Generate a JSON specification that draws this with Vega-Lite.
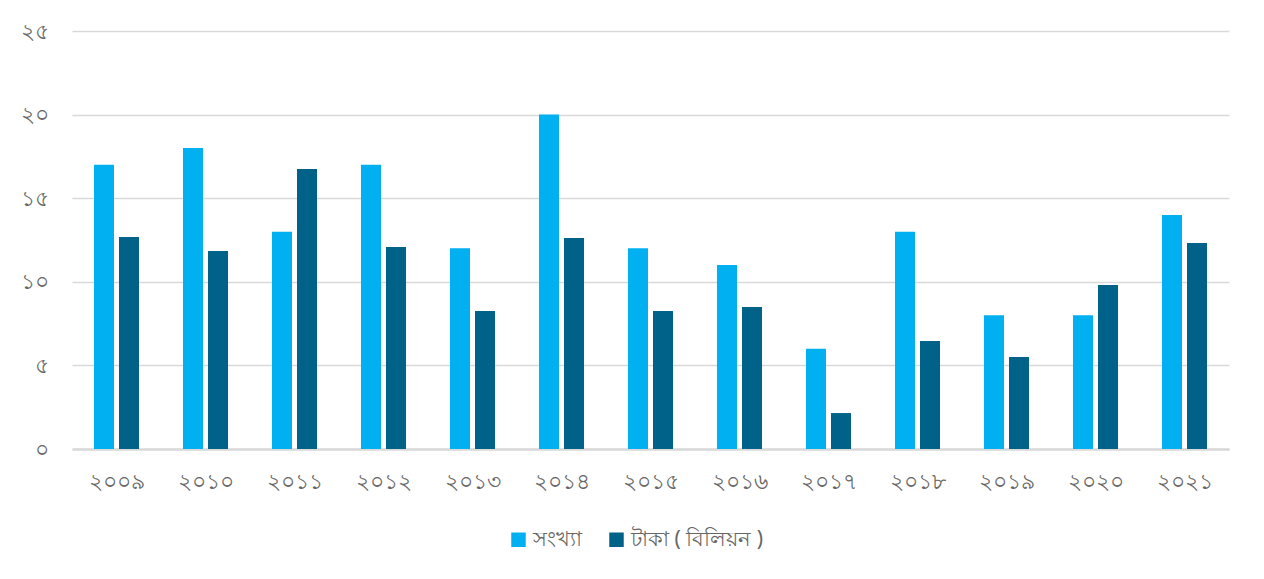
{
  "$schema": "https://vega.github.io/schema/vega-lite/v6.json",
  "width": 1157,
  "height": 418,
  "autosize": {"type": "none"},
  "padding": {"left": 72, "top": 31, "right": 35, "bottom": 130},
  "background": "white",
  "config": {
    "view": {"stroke": null},
    "font": "Noto Sans",
    "axis": {"labelFont": "Noto Sans", "labelColor": "#666666", "labelFontSize": 22}
  },
  "data": {
    "values": [
      {"year": "২০০৯", "series": "সংখ্যা", "value": 17},
      {"year": "২০০৯", "series": "টাকা ( বিলিয়ন )", "value": 12.68},
      {"year": "২০১০", "series": "সংখ্যা", "value": 18},
      {"year": "২০১০", "series": "টাকা ( বিলিয়ন )", "value": 11.84},
      {"year": "২০১১", "series": "সংখ্যা", "value": 13},
      {"year": "২০১১", "series": "টাকা ( বিলিয়ন )", "value": 16.75},
      {"year": "২০১২", "series": "সংখ্যা", "value": 17},
      {"year": "২০১২", "series": "টাকা ( বিলিয়ন )", "value": 12.08},
      {"year": "২০১৩", "series": "সংখ্যা", "value": 12},
      {"year": "২০১৩", "series": "টাকা ( বিলিয়ন )", "value": 8.25},
      {"year": "২০১৪", "series": "সংখ্যা", "value": 20},
      {"year": "২০১৪", "series": "টাকা ( বিলিয়ন )", "value": 12.62},
      {"year": "২০১৫", "series": "সংখ্যা", "value": 12},
      {"year": "২০১৫", "series": "টাকা ( বিলিয়ন )", "value": 8.25},
      {"year": "২০১৬", "series": "সংখ্যা", "value": 11},
      {"year": "২০১৬", "series": "টাকা ( বিলিয়ন )", "value": 8.49},
      {"year": "২০১৭", "series": "সংখ্যা", "value": 6},
      {"year": "২০১৭", "series": "টাকা ( বিলিয়ন )", "value": 2.15},
      {"year": "২০১৮", "series": "সংখ্যা", "value": 13},
      {"year": "২০১৮", "series": "টাকা ( বিলিয়ন )", "value": 6.46},
      {"year": "২০১৯", "series": "সংখ্যা", "value": 8},
      {"year": "২০১৯", "series": "টাকা ( বিলিয়ন )", "value": 5.5},
      {"year": "২০২০", "series": "সংখ্যা", "value": 8},
      {"year": "২০২০", "series": "টাকা ( বিলিয়ন )", "value": 9.81},
      {"year": "২০২১", "series": "সংখ্যা", "value": 14},
      {"year": "২০২১", "series": "টাকা ( বিলিয়ন )", "value": 12.32}
    ]
  },
  "mark": {"type": "bar"},
  "encoding": {
    "x": {
      "field": "year", "type": "nominal", "sort": null,
      "scale": {"paddingInner": 0.494, "paddingOuter": 0.247},
      "axis": {"title": null, "labelAngle": 0, "ticks": false, "domainColor": "#d9d9d9", "domainWidth": 2.5, "labelPadding": 22}
    },
    "xOffset": {
      "field": "series", "type": "nominal", "sort": ["সংখ্যা", "টাকা ( বিলিয়ন )"],
      "scale": {"paddingInner": 0.2, "paddingOuter": 0}
    },
    "y": {
      "field": "value", "type": "quantitative",
      "scale": {"domain": [0, 25]},
      "axis": {"title": null, "values": [0, 5, 10, 15, 20, 25], "labelExpr": "replace(replace(replace(replace(datum.label, /0/g, '০'), /1/g, '১'), /2/g, '২'), /5/g, '৫')", "domain": false, "ticks": false, "gridColor": "#d9d9d9", "gridWidth": 1.5, "labelPadding": 24}
    },
    "color": {
      "field": "series", "type": "nominal", "sort": ["সংখ্যা", "টাকা ( বিলিয়ন )"],
      "scale": {"domain": ["সংখ্যা", "টাকা ( বিলিয়ন )"], "range": ["#00B0F0", "#006289"]},
      "legend": {"title": null, "orient": "none", "direction": "horizontal", "legendX": 436, "legendY": 498, "symbolType": "square", "symbolSize": 210, "symbolStrokeWidth": 0, "labelFontSize": 21, "labelColor": "#666666", "labelFont": "Noto Sans", "columnPadding": 24, "labelOffset": 4}
    }
  }
}
